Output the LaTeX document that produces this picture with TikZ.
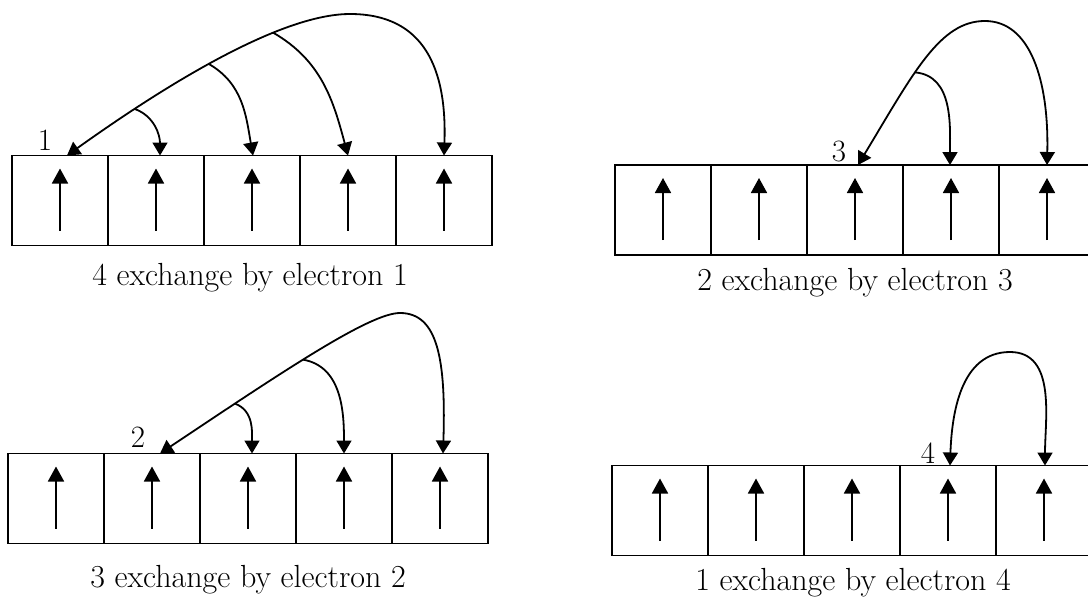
\documentclass[tikz,border=0pt]{standalone}
\usetikzlibrary{arrows.meta}
\begin{document}
\begin{tikzpicture}[x=1pt,y=1pt,
  cell/.style={draw, line width=1.8pt, minimum width=96pt, minimum height=90pt, inner sep=0pt, outer sep=0pt},
  spin/.style={line width=1.8pt, -{Triangle[width=16pt,length=15pt]}},
  exch/.style={line width=1.8pt, -{Triangle[width=15pt,length=13pt]}},
  dexch/.style={line width=1.8pt, {Triangle[width=15pt,length=13pt]}-{Triangle[width=15pt,length=13pt]}},
  capt/.style={font=\fontsize{32}{35}\selectfont, inner sep=0pt, anchor=base},
  num/.style={font=\fontsize{31}{34}\selectfont, inner sep=0pt},
]
\clip (0,0) rectangle (1088,-597);
\fill[white] (0,0) rectangle (1088,-597);

% ---------- Panel 1 ----------
\foreach \i in {1,...,5} \node[cell] (A\i) at ({60+96*(\i-1)},-200.5) {};
\foreach \i in {1,...,5} \draw[spin] ([yshift=15pt]A\i.south) -- ([yshift=-13pt]A\i.north);
\coordinate (A-pk) at (350,-14);
\draw[dexch] ([xshift=7pt]A1.north) .. controls (191,-67) and (290,-14) .. (A-pk)
  coordinate[pos=0.19] (A-b1) coordinate[pos=0.42] (A-b2) coordinate[pos=0.65] (A-b3)
  .. controls (425,-14) and (447,-70) .. (A5.north);
\draw[exch] (A-b1) to[out=-20,in=90] ([xshift=4pt]A2.north);
\draw[exch] (A-b2) to[out=-30,in=100] ([xshift=1pt]A3.north);
\draw[exch] (A-b3) to[out=-30,in=105] (A4.north);
\node[num] (L1) at (45,-140) {1};
\node[capt] (C1) at (250,-285) {4 exchange by electron 1};

% ---------- Panel 2 ----------
\foreach \i in {1,...,5} \node[cell] (B\i) at ({663+96*(\i-1)},-210) {};
\foreach \i in {1,...,5} \draw[spin] ([yshift=15pt]B\i.south) -- ([yshift=-13pt]B\i.north);
\coordinate (B-pk) at (985,-21);
\draw[dexch] ([xshift=3pt]B3.north) .. controls (914,-72) and (940,-21) .. (B-pk)
  coordinate[pos=0.41] (B-b)
  .. controls (1030,-21) and (1049,-80) .. (B5.north);
\draw[exch] (B-b) to[out=-5,in=90] ([xshift=-1pt]B4.north);
\node[num] (L3) at (839,-152) {3};
\node[capt] (C2) at (855,-290) {2 exchange by electron 3};

% ---------- Panel 3 ----------
\foreach \i in {1,...,5} \node[cell] (C\i) at ({56+96*(\i-1)},-498.5) {};
\foreach \i in {1,...,5} \draw[spin] ([yshift=15pt]C\i.south) -- ([yshift=-13pt]C\i.north);
\coordinate (C-pk) at (400,-313);
\draw[dexch] ([xshift=8pt]C2.north) .. controls (285,-370) and (370,-313) .. (C-pk)
  coordinate[pos=0.215] (C-b1) coordinate[pos=0.45] (C-b2)
  .. controls (438,-313) and (446,-360) .. ([xshift=3pt]C5.north);
\draw[exch] (C-b1) to[out=-20,in=90] ([xshift=4pt]C3.north);
\draw[exch] (C-b2) to[out=-10,in=90] (C4.north);
\node[num] (L2) at (138,-437) {2};
\node[capt] (C3cap) at (248,-587) {3 exchange by electron 2};

% ---------- Panel 4 ----------
\foreach \i in {1,...,5} \node[cell] (D\i) at ({660+96*(\i-1)},-510.5) {};
\foreach \i in {1,...,5} \draw[spin] ([yshift=15pt]D\i.south) -- ([yshift=-13pt]D\i.north);
\coordinate (D-pk) at (1010,-352);
\draw[dexch] ([xshift=2pt]D4.north) to[out=88,in=180] (D-pk) to[out=0,in=90] ([xshift=1pt]D5.north);
\node[num] (L4) at (928,-453) {4};
\node[capt] (C4cap) at (853,-590) {1 exchange by electron 4};
\end{tikzpicture}
\end{document}
